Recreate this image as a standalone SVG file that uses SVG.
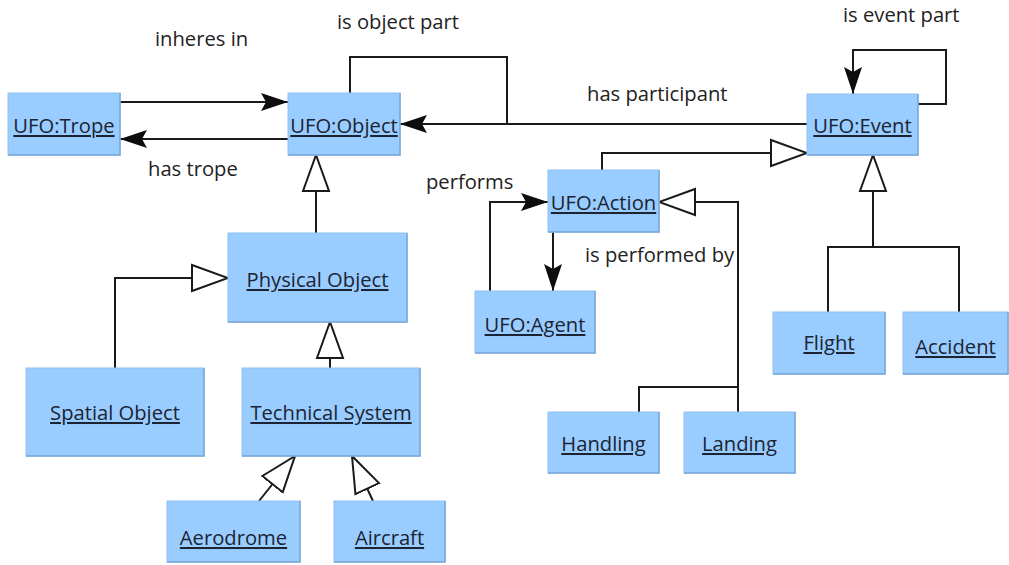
<svg xmlns="http://www.w3.org/2000/svg" width="1009" height="565" viewBox="0 0 1009 565">
  <style>
    .box { fill: #99ccff; stroke: #8fc2f2; stroke-width: 1; }
    .edge { fill: none; stroke: #7aa8d6; stroke-width: 1.5; }
    .name { font-family: "Open Sans", "Noto Sans", sans-serif; font-size: 20.2px; fill: #1c2433; text-anchor: middle; text-decoration: underline; text-decoration-thickness: 2px; text-underline-offset: 4px; text-decoration-skip-ink: none; }
    .lbl { font-family: "Open Sans", "Noto Sans", sans-serif; font-size: 20.2px; fill: #222222; }
    .ln { fill: none; stroke: #1a1a1a; stroke-width: 2; }
    .assoc { marker-end: url(#arrow); }
    .gen { marker-end: url(#tri); }
  </style>
  <defs>
    <marker id="arrow" markerUnits="userSpaceOnUse" viewBox="0 -10 28 20" refX="27" refY="0" markerWidth="28" markerHeight="20" orient="auto">
      <path d="M0,-9 L27,0 L0,9 L5,0 Z" fill="#0d0d0d"/>
    </marker>
    <marker id="tri" markerUnits="userSpaceOnUse" viewBox="-1 -15 39 30" refX="36" refY="0" markerWidth="39" markerHeight="30" orient="auto">
      <path d="M0,-13 L36,0 L0,13 Z" fill="#ffffff" stroke="#1a1a1a" stroke-width="2" stroke-linejoin="miter"/>
    </marker>
  </defs>

  <!-- connectors -->
  <g id="connectors">
    <!-- inheres in -->
    <line class="ln assoc" x1="120" y1="102" x2="288" y2="102"/>
    <!-- has trope -->
    <line class="ln assoc" x1="288" y1="139" x2="120" y2="139"/>
    <!-- is object part (self loop joining the participant line) -->
    <polyline class="ln" points="350,93 350,57 507,57 507,124"/>
    <!-- has participant -->
    <line class="ln assoc" x1="807" y1="124" x2="400" y2="124"/>
    <!-- is event part -->
    <polyline class="ln assoc" points="918,104 946,104 946,50 853,50 853,94"/>
    <!-- Action specialises Event -->
    <polyline class="ln gen" points="602,170 602,153 807,153"/>
    <!-- performs -->
    <polyline class="ln assoc" points="490,291 490,202 548,202"/>
    <!-- is performed by -->
    <line class="ln assoc" x1="553" y1="232" x2="553" y2="291"/>
    <!-- Handling / Landing specialise Action -->
    <polyline class="ln" points="639,412 639,387 738,387"/>
    <polyline class="ln gen" points="738,412 738,202 659,202"/>
    <!-- Flight / Accident specialise Event -->
    <polyline class="ln" points="828,312 828,247 959,247 959,312"/>
    <line class="ln gen" x1="873" y1="247" x2="873" y2="155"/>
    <!-- Physical Object specialises Object -->
    <line class="ln gen" x1="316" y1="233" x2="316" y2="155"/>
    <!-- Spatial Object specialises Physical Object -->
    <polyline class="ln gen" points="115,368 115,278 228,278"/>
    <!-- Technical System specialises Physical Object -->
    <line class="ln gen" x1="330" y1="368" x2="330" y2="322"/>
    <!-- Aerodrome / Aircraft specialise Technical System -->
    <line class="ln gen" x1="259" y1="501" x2="295" y2="456"/>
    <line class="ln gen" x1="373" y1="501" x2="352" y2="456"/>
  </g>

  <!-- association labels -->
  <g id="labels">
    <text class="lbl" x="155" y="46">inheres in</text>
    <text class="lbl" x="337" y="29">is object part</text>
    <text class="lbl" x="148" y="176">has trope</text>
    <text class="lbl" x="587" y="101">has participant</text>
    <text class="lbl" x="843" y="22">is event part</text>
    <text class="lbl" x="426" y="189">performs</text>
    <text class="lbl" x="585" y="262">is performed by</text>
  </g>

  <!-- nodes -->
  <g id="trope">
    <rect class="box" x="8" y="93" width="112" height="62"/>
    <polyline class="edge" points="120,93 120,155 8,155"/>
    <text class="name" x="64" y="133">UFO:Trope</text>
  </g>
  <g id="object">
    <rect class="box" x="288" y="93" width="112" height="62"/>
    <polyline class="edge" points="400,93 400,155 288,155"/>
    <text class="name" x="344" y="133">UFO:Object</text>
  </g>
  <g id="event">
    <rect class="box" x="807" y="94" width="111" height="61"/>
    <polyline class="edge" points="918,94 918,155 807,155"/>
    <text class="name" x="862.5" y="133">UFO:Event</text>
  </g>
  <g id="action">
    <rect class="box" x="548" y="170" width="111" height="62"/>
    <polyline class="edge" points="659,170 659,232 548,232"/>
    <text class="name" x="603.5" y="210">UFO:Action</text>
  </g>
  <g id="agent">
    <rect class="box" x="475" y="291" width="120" height="62"/>
    <polyline class="edge" points="595,291 595,353 475,353"/>
    <text class="name" x="535" y="332">UFO:Agent</text>
  </g>
  <g id="physical-object">
    <rect class="box" x="228" y="233" width="179" height="89"/>
    <polyline class="edge" points="407,233 407,322 228,322"/>
    <text class="name" x="317.5" y="287">Physical Object</text>
  </g>
  <g id="spatial-object">
    <rect class="box" x="26" y="368" width="178" height="88"/>
    <polyline class="edge" points="204,368 204,456 26,456"/>
    <text class="name" x="115" y="420">Spatial Object</text>
  </g>
  <g id="technical-system">
    <rect class="box" x="242" y="368" width="178" height="88"/>
    <polyline class="edge" points="420,368 420,456 242,456"/>
    <text class="name" x="331" y="420">Technical System</text>
  </g>
  <g id="aerodrome">
    <rect class="box" x="167" y="501" width="133" height="61"/>
    <polyline class="edge" points="300,501 300,562 167,562"/>
    <text class="name" x="233.5" y="545">Aerodrome</text>
  </g>
  <g id="aircraft">
    <rect class="box" x="334" y="501" width="111" height="61"/>
    <polyline class="edge" points="445,501 445,562 334,562"/>
    <text class="name" x="389.5" y="545">Aircraft</text>
  </g>
  <g id="handling">
    <rect class="box" x="548" y="412" width="111" height="61"/>
    <polyline class="edge" points="659,412 659,473 548,473"/>
    <text class="name" x="603.5" y="451">Handling</text>
  </g>
  <g id="landing">
    <rect class="box" x="684" y="412" width="111" height="61"/>
    <polyline class="edge" points="795,412 795,473 684,473"/>
    <text class="name" x="739.5" y="451">Landing</text>
  </g>
  <g id="flight">
    <rect class="box" x="773" y="312" width="112" height="62"/>
    <polyline class="edge" points="885,312 885,374 773,374"/>
    <text class="name" x="829" y="350">Flight</text>
  </g>
  <g id="accident">
    <rect class="box" x="903" y="312" width="105" height="62"/>
    <polyline class="edge" points="1008,312 1008,374 903,374"/>
    <text class="name" x="955.5" y="354">Accident</text>
  </g>
</svg>
